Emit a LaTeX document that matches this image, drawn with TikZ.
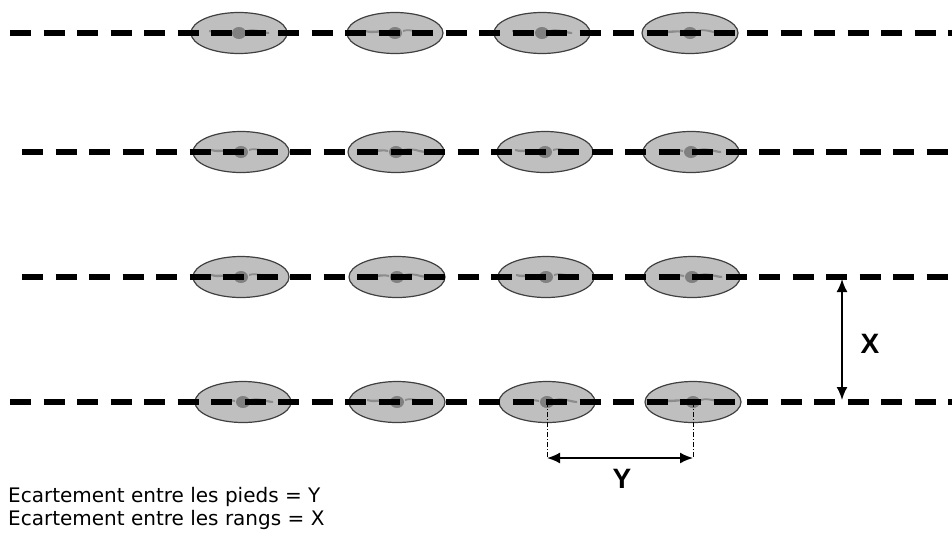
\documentclass[tikz,border=0pt]{standalone}
\usepackage{fontspec}
\setmainfont{DejaVu Sans}
\newfontfamily\labfont{Liberation Sans}
\usetikzlibrary{shapes.geometric,arrows.meta}
\tikzset{
  plant/.style={ellipse, draw=black!75, line width=1.2pt, fill=black!25,
    minimum width=96pt, minimum height=41pt, inner sep=0pt},
  rowline/.style={line width=5.5pt, dash pattern=on 21pt off 12.5pt},
  dimarrow/.style={line width=1.8pt, {Latex[length=13pt,width=11pt]}-{Latex[length=13pt,width=11pt]}},
  guide/.style={line width=0.8pt, dash pattern=on 5pt off 2pt on 1pt off 2pt},
  dimlabel/.style={font=\labfont\bfseries\fontsize{28}{28}\selectfont},
  legend/.style={font=\fontsize{20}{23.5}\selectfont, anchor=north west, align=left, inner sep=0pt}
}
\newcommand{\plantcore}[1]{%
  \fill[black!45] (#1) ++(-30pt,1pt) .. controls ++(10pt,-3pt) and ++(-8pt,2pt) .. ++(22pt,-1pt)
     -- ++(0,2pt) .. controls ++(-8pt,2pt) and ++(10pt,-2pt) .. ++(-22pt,1pt) -- cycle;
  \fill[black!45] (#1) ++(8pt,1pt) .. controls ++(8pt,3pt) and ++(-8pt,0pt) .. ++(22pt,-2pt)
     -- ++(0,2pt) .. controls ++(-8pt,1pt) and ++(8pt,2pt) .. ++(-22pt,2pt) -- cycle;
  \fill[black!50] (#1) ellipse (7pt and 6pt);
}
\begin{document}
\begin{tikzpicture}[x=1pt,y=-1pt]
\useasboundingbox (0,0) rectangle (952,533);
% plants
\foreach \r/\y/\xa/\xb/\xc/\xd in {1/33/239/395/542/690, 2/152/241/396/545/691, 3/277/241/397/546/692, 4/402/243/397/547/693}{
  \node[plant] (p\r a) at (\xa,\y) {};
  \node[plant] (p\r b) at (\xb,\y) {};
  \node[plant] (p\r c) at (\xc,\y) {};
  \node[plant] (p\r d) at (\xd,\y) {};
  \plantcore{p\r a.center}
  \plantcore{p\r b.center}
  \plantcore{p\r c.center}
  \plantcore{p\r d.center}
}
% row lines
\coordinate (r1s) at (10,33);  \coordinate (r1e) at (952,33);
\coordinate (r2s) at (22,152); \coordinate (r2e) at (952,152);
\coordinate (r3s) at (22,277); \coordinate (r3e) at (952,277);
\coordinate (r4s) at (10,402); \coordinate (r4e) at (952,402);
\foreach \r in {1,2,3,4}{ \draw[rowline] (r\r s) -- (r\r e); }
% Y dimension
\coordinate (ya) at (547,458);
\coordinate (yb) at (693,458);
\draw[guide] (p4c.center) -- (ya);
\draw[guide] (p4d.center) -- (yb);
\draw[dimarrow] (ya) -- (yb);
\node[dimlabel] (ylab) at (622,479) {Y};
% X dimension
\coordinate (xa) at (842,279);
\coordinate (xb) at (842,400);
\draw[dimarrow] (xa) -- (xb);
\node[dimlabel] (xlab) at (870,344) {X};
% legend
\node[legend] (leg) at (8,487) {Ecartement entre les pieds = Y\\Ecartement entre les rangs = X};
\end{tikzpicture}
\end{document}
